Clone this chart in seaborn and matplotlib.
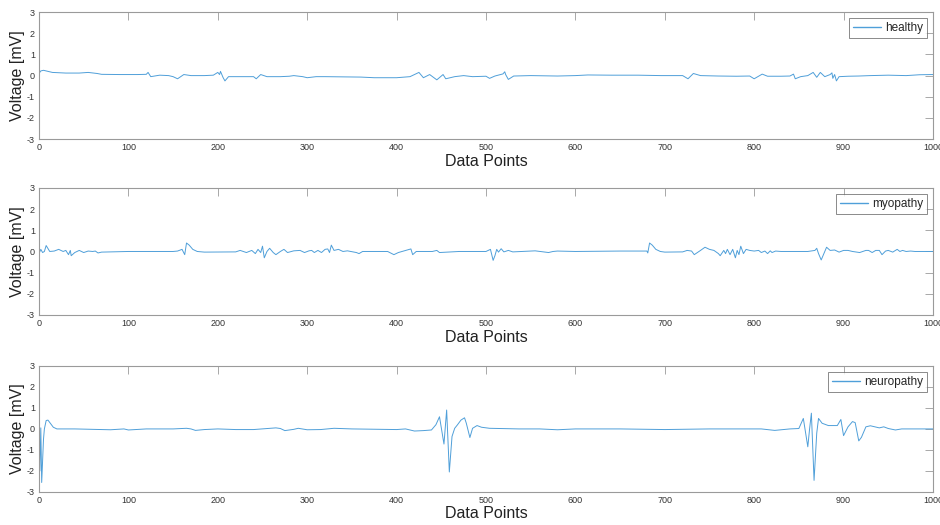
import numpy as np
import pandas as pd
import matplotlib
matplotlib.use("Agg")
import matplotlib.pyplot as plt
import seaborn as sns

# ---- data (sample index, voltage in mV) ----
healthy_x = [0, 2, 5, 10, 15, 30, 45, 55, 65, 70, 90, 110, 120, 122, 125, 135, 145, 150, 155, 162, 170,
             185, 195, 200, 202, 203, 206, 208, 212, 225, 240, 243, 248, 255, 270, 280, 285, 295, 300,
             310, 320, 340, 360, 375, 400, 415, 425, 430, 437, 445, 452, 455, 465, 475, 485, 500,
             504, 510, 519, 521, 522, 525, 531, 550, 580, 600, 614, 640, 670, 696, 720, 726, 732, 740,
             760, 780, 795, 800, 809, 815, 830, 840, 844, 846, 852, 860, 866, 870, 874, 879, 885, 887,
             888, 890, 892, 895, 905, 917, 930, 950, 970, 985, 1000]
healthy_y = [0.1, 0.22, 0.25, 0.2, 0.15, 0.12, 0.12, 0.15, 0.1, 0.06, 0.05, 0.05, 0.06, 0.15, -0.05, 0.02, 0.0, -0.05, -0.15, 0.05, 0.0,
             0.0, 0.02, 0.15, 0.05, 0.2, -0.1, -0.25, -0.05, -0.05, -0.05, -0.15, 0.05, -0.05, -0.05, -0.03, 0.0, -0.05, -0.1,
             -0.05, -0.05, -0.06, -0.07, -0.1, -0.1, -0.05, 0.15, -0.1, 0.05, -0.2, 0.05, -0.15, -0.05, 0.0, -0.05, -0.03,
             -0.13, -0.02, 0.08, 0.18, 0.05, -0.18, -0.02, 0.0, -0.02, 0.0, 0.03, 0.02, 0.02, 0.0, 0.0, -0.15, 0.1, 0.0,
             -0.02, -0.03, -0.02, -0.15, 0.07, -0.03, -0.03, -0.02, 0.07, -0.15, -0.05, 0.0, 0.15, -0.08, 0.15, -0.05, 0.05, 0.13,
             -0.13, 0.05, -0.25, -0.05, -0.03, -0.02, 0.0, 0.02, 0.0, 0.04, 0.05]

myopathy_x = [0, 2, 4, 6, 8, 12, 17, 22, 27, 30, 33, 35, 36, 40, 45, 50, 55, 60, 63, 66, 70, 100, 150,
              155, 160, 163, 165, 168, 172, 177, 185, 220, 225, 232, 238, 242, 245, 248, 250, 252, 255,
              258, 262, 265, 270, 274, 278, 285, 292, 297, 302, 305, 308, 312, 316, 320, 323, 325, 327,
              330, 335, 340, 345, 355, 358, 362, 390, 397, 402, 410, 416, 418, 422, 440, 445, 448, 470,
              500, 505, 508, 510, 512, 514, 517, 520, 525, 530, 540, 555, 570, 575, 580, 600, 650, 680,
              681, 683, 686, 690, 695, 700, 720, 725, 730, 733, 740, 745, 750, 755, 760, 762, 766, 768,
              770, 773, 776, 779, 781, 783, 785, 788, 791, 795, 800, 805, 808, 812, 815, 818, 820, 824,
              830, 860, 868, 870, 872, 875, 878, 881, 885, 890, 895, 900, 905, 910, 918, 925, 928, 932,
              936, 940, 943, 947, 950, 955, 960, 963, 966, 970, 975, 980, 1000]
myopathy_y = [-0.1, 0.1, -0.05, 0.0, 0.28, 0.0, 0.02, 0.1, 0.0, 0.05, -0.15, 0.05, -0.2, -0.05, 0.05, -0.05, 0.02, 0.0, 0.02, -0.07, -0.03, 0.0, 0.0,
              0.02, 0.1, -0.15, 0.4, 0.3, 0.1, 0.0, -0.03, -0.02, 0.05, -0.05, 0.05, -0.1, 0.1, -0.05, 0.25, -0.3, 0.0,
              0.15, -0.05, -0.15, 0.0, 0.1, -0.05, 0.03, 0.05, -0.05, 0.03, 0.05, -0.05, 0.05, -0.05, 0.1, 0.12, -0.05, 0.3,
              0.05, 0.1, 0.0, 0.03, -0.05, -0.1, 0.0, 0.0, -0.15, -0.05, 0.05, 0.12, -0.15, 0.0, 0.0, 0.05, -0.05, 0.0,
              0.0, 0.1, -0.42, -0.2, 0.1, -0.03, 0.13, -0.02, 0.05, -0.02, 0.0, 0.03, -0.05, 0.0, 0.02, 0.0, 0.02, 0.02,
              -0.07, 0.4, 0.3, 0.1, 0.0, -0.03, -0.02, 0.05, 0.02, -0.15, 0.05, 0.2, 0.1, 0.05, -0.1, -0.2, 0.05, -0.1,
              0.1, -0.15, 0.1, -0.3, 0.05, -0.15, 0.25, -0.1, 0.1, 0.05, 0.02, 0.05, -0.05, 0.02, -0.1, 0.03, -0.05, 0.02,
              0.0, 0.0, 0.05, 0.15, -0.1, -0.4, -0.1, 0.2, 0.05, 0.07, -0.03, 0.05, 0.05, 0.0, -0.05, 0.05, 0.05, -0.05,
              0.05, 0.05, -0.15, 0.02, 0.05, -0.03, 0.1, 0.0, 0.05, 0.0, 0.02, 0.0, 0.0]

neuropathy_x = [0, 1, 2, 3, 5, 6, 8, 10, 13, 16, 20, 40, 60, 80, 95, 100, 120, 150, 165, 170, 175, 185,
                200, 220, 240, 265, 270, 275, 285, 290, 300, 315, 330, 350, 400, 410, 420, 430, 439, 444,
                448, 453, 456, 459, 462, 465, 468, 472, 476, 478, 482, 485, 490, 495, 504, 537, 560, 580,
                600, 650, 700, 750, 790, 808, 823, 840, 850, 855, 860, 862, 864, 867, 870, 872, 876, 883,
                893, 897, 900, 905, 910, 913, 917, 920, 925, 930, 940, 945, 950, 958, 965, 980, 1000]
neuropathy_y = [0.05, -2.0, 0.05, -2.55, -0.5, 0.0, 0.4, 0.42, 0.25, 0.08, 0.0, 0.0, -0.02, -0.04, 0.0, -0.05, 0.0, 0.0, 0.03, 0.0, -0.07, -0.03,
                0.0, -0.03, -0.03, 0.05, 0.02, -0.08, -0.02, 0.03, -0.04, -0.03, 0.03, 0.0, -0.03, 0.0, -0.1, -0.08, -0.05, 0.2,
                0.58, -0.72, 0.9, -2.05, -0.36, 0.03, 0.19, 0.42, 0.53, 0.27, -0.41, 0.03, 0.16, 0.08, 0.03, 0.0, 0.0, -0.04,
                0.0, 0.0, -0.03, 0.0, 0.0, 0.0, -0.07, 0.0, 0.02, 0.5, -0.85, 0.0, 0.75, -2.45, -0.2, 0.5, 0.27, 0.16,
                0.16, 0.45, -0.32, 0.1, 0.35, 0.3, -0.57, -0.4, 0.1, 0.15, 0.05, 0.1, 0.02, -0.05, 0.0, 0.0, 0.0]

labels = ["healthy", "myopathy", "neuropathy"]
series = [(healthy_x, healthy_y), (myopathy_x, myopathy_y), (neuropathy_x, neuropathy_y)]
xticks = [0, 100, 200, 300, 400, 500, 600, 700, 800, 900, 1000]
yticks = [-3, -2, -1, 0, 1, 2, 3]

sns.set_style("white")
plt.rcParams["font.family"] = ["Liberation Sans", "DejaVu Sans"]
plt.rcParams["axes.unicode_minus"] = False

fig = plt.figure(figsize=(9.4, 5.25), dpi=100)
rects = [(0.0415, 0.735, 0.951, 0.242),
         (0.0415, 0.400, 0.951, 0.242),
         (0.0415, 0.063, 0.951, 0.240)]
line_color = "#4f9fd9"
spine_color = "#9a9a9a"

for (xs, ys), lab, r in zip(series, labels, rects):
    ax = fig.add_axes(r)
    df = pd.DataFrame({"Data Points": xs, "Voltage": ys})
    sns.lineplot(data=df, x="Data Points", y="Voltage", ax=ax, color=line_color,
                 linewidth=0.7, label=lab, estimator=None, sort=False)
    ax.set_xlim(0, 1000)
    ax.set_ylim(-3, 3)
    ax.set_xticks(xticks)
    ax.set_yticks(yticks)
    ax.tick_params(direction="in", length=6, width=0.6, color=spine_color,
                   labelsize=6.5, labelcolor="#333333", top=True, right=True,
                   pad=3)
    for s in ax.spines.values():
        s.set_color(spine_color)
        s.set_linewidth(0.8)
    ax.set_xlabel("Data Points", fontsize=11.5, color="#222222", labelpad=1)
    ax.set_ylabel("Voltage [mV]", fontsize=11.5, color="#222222", labelpad=1)
    leg = ax.legend(loc="upper right", fontsize=8.5, frameon=True, fancybox=False,
                    handlelength=2.4, handletextpad=0.3, borderpad=0.35,
                    borderaxespad=0.5)
    for h in leg.legend_handles:
        h.set_color(line_color)
        h.set_linewidth(1.0)
    leg.get_frame().set_edgecolor("#555555")
    leg.get_frame().set_linewidth(0.6)

fig.savefig("out.png", dpi=100)
